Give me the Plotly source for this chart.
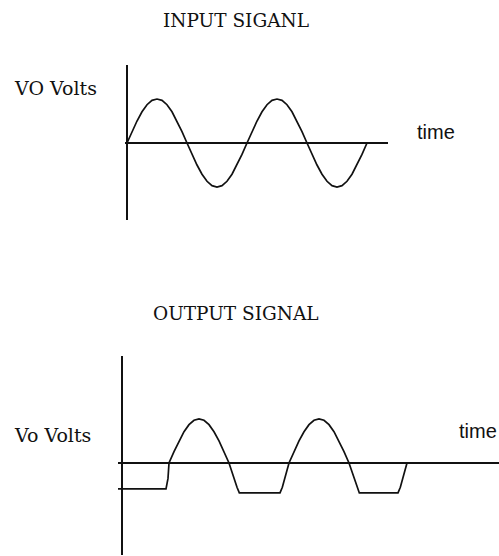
import plotly.graph_objects as go

W, H = 499, 556

# ---- data (phase in degrees, voltage in units of the input amplitude) ----
input_t = [0, 15, 30, 45, 60, 75, 90, 105, 120, 135, 150, 165, 180,
           195, 210, 225, 240, 255, 270, 285, 300, 315, 330, 345, 360,
           375, 390, 405, 420, 435, 450, 465, 480, 495, 510, 525, 540,
           555, 570, 585, 600, 615, 630, 645, 660, 675, 690, 705, 720]
input_v = [0, 0.26, 0.5, 0.71, 0.87, 0.97, 1.0, 0.97, 0.87, 0.71, 0.5, 0.26, 0,
           -0.26, -0.5, -0.71, -0.87, -0.97, -1.0, -0.97, -0.87, -0.71, -0.5, -0.26, 0,
           0.26, 0.5, 0.71, 0.87, 0.97, 1.0, 0.97, 0.87, 0.71, 0.5, 0.26, 0,
           -0.26, -0.5, -0.71, -0.87, -0.97, -1.0, -0.97, -0.87, -0.71, -0.5, -0.26, 0]

output_t = [-12, 132, 138,
            141, 156, 171, 186, 201, 216, 231, 246, 261, 276, 291, 306, 321,
            345, 352, 474, 481,
            501, 516, 531, 546, 561, 576, 591, 606, 621, 636, 651, 666, 681,
            705, 712, 828, 835, 855]
output_v = [-0.59, -0.59, -0.35,
            0, 0.26, 0.5, 0.71, 0.87, 0.97, 1.0, 0.97, 0.87, 0.71, 0.5, 0.26, 0,
            -0.55, -0.68, -0.68, -0.55,
            0, 0.26, 0.5, 0.71, 0.87, 0.97, 1.0, 0.97, 0.87, 0.71, 0.5, 0.26, 0,
            -0.55, -0.68, -0.68, -0.55, 0]

top_title = "INPUT SIGANL"
bottom_title = "OUTPUT SIGNAL"
top_ylabel = "VO Volts"
bottom_ylabel = "Vo Volts"
xlabel = "time"


def px_x(p):
    return p / W


def px_y(p):
    return 1 - p / H


fig = go.Figure()
line_style = dict(color="#111111", width=1.7)
fig.add_trace(go.Scatter(x=input_t, y=input_v, mode="lines", line=line_style,
                         xaxis="x", yaxis="y", hoverinfo="skip"))
fig.add_trace(go.Scatter(x=output_t, y=output_v, mode="lines", line=line_style,
                         xaxis="x2", yaxis="y2", hoverinfo="skip"))

axis_common = dict(showgrid=False, showticklabels=False, ticks="", showline=False,
                   zeroline=True, zerolinecolor="#111111", zerolinewidth=2,
                   fixedrange=True)

fig.update_layout(
    width=W, height=H,
    margin=dict(l=0, r=0, t=0, b=0),
    paper_bgcolor="white", plot_bgcolor="white",
    showlegend=False,
    xaxis=dict(domain=[px_x(125), px_x(388)], range=[-6, 783], anchor="y", **axis_common),
    yaxis=dict(domain=[px_y(220), px_y(65)], range=[-1.75, 1.773], anchor="x", **axis_common),
    xaxis2=dict(domain=[px_x(118), px_x(499)], range=[-12, 1131], anchor="y2", **axis_common),
    yaxis2=dict(domain=[px_y(555), px_y(356)], range=[-2.09, 2.43], anchor="x2", **axis_common),
)

serif = dict(family="DejaVu Serif", size=18.5, color="#111111")
serif_lab = dict(family="DejaVu Serif", size=19, color="#111111")
sans = dict(family="Liberation Sans", size=20, color="#111111")

ann = [
    dict(text=top_title, x=px_x(236), y=px_y(21), font=serif),
    dict(text=bottom_title, x=px_x(236), y=px_y(313), font=serif),
    dict(text=top_ylabel, x=px_x(12), y=px_y(88), font=serif_lab, xanchor="left"),
    dict(text=bottom_ylabel, x=px_x(12), y=px_y(435), font=serif_lab, xanchor="left"),
    dict(text=xlabel, x=px_x(415), y=px_y(132), font=sans, xanchor="left"),
    dict(text=xlabel, x=px_x(499), y=px_y(431), font=sans, xanchor="right"),
]
for a in ann:
    a.setdefault("xanchor", "center")
    fig.add_annotation(xref="paper", yref="paper", yanchor="middle", showarrow=False, **a)

fig.write_html("out.html", config={"displayModeBar": False},
               post_script="document.body.style.margin='0';document.body.style.padding='0';")
